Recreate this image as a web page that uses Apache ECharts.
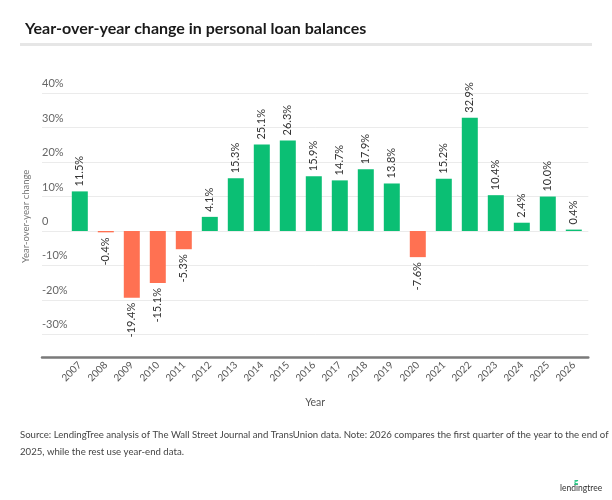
<!DOCTYPE html>
<html>
<head>
<meta charset="utf-8">
<script src="https://cdn.jsdelivr.net/npm/echarts@6/dist/echarts.min.js"></script>
<style>
html,body{margin:0;padding:0;background:#fff;}
#chart{width:612px;height:500px;}
</style>
</head>
<body>
<div id="chart"></div>
<script>
const years = ['2007','2008','2009','2010','2011','2012','2013','2014','2015','2016','2017','2018','2019','2020','2021','2022','2023','2024','2025','2026'];
const changes = [11.5,-0.4,-19.4,-15.1,-5.3,4.1,15.3,25.1,26.3,15.9,14.7,17.9,13.8,-7.6,15.2,32.9,10.4,2.4,10.0,0.4];
const yTicks = [-30,-20,-10,0,10,20,30,40];

const GREEN = '#0bbf74';
const RED = '#ff7152';
const FONT = 'Lato';

const barData = changes.map(v => {
  const item = { value: v, itemStyle: { color: v >= 0 ? GREEN : RED } };
  if (v < 0) item.label = { position: 'bottom', align: 'right' };
  return item;
});

const yMin = -36.7, yMax = 40;
const chart = echarts.init(document.getElementById('chart'));
chart.setOption({
  backgroundColor: '#fff',
  animation: false,
  textStyle: { fontFamily: FONT },
  title: {
    text: 'Year-over-year change in personal loan balances',
    left: 20, top: 16,
    textStyle: { fontFamily: FONT, fontWeight: 'bold', fontSize: 16, color: '#1a1a1a' }
  },
  grid: [
    { left: 42, right: 23.7, top: 93.3, bottom: 142.7 },
    { left: 66.8, right: 25.2, top: 93.3, bottom: 142.7 }
  ],
  xAxis: [
    {
      gridIndex: 0, type: 'category', data: years,
      axisLine: { show: true, onZero: false, lineStyle: { color: '#7a7a7a', width: 2.5 } },
      axisTick: { show: false }, axisLabel: { show: false },
      name: 'Year', nameLocation: 'middle', nameGap: 40,
      nameTextStyle: { fontFamily: FONT, fontSize: 10.5, color: '#555' }
    },
    {
      gridIndex: 1, type: 'category', data: years,
      axisLine: { show: false, onZero: false }, axisTick: { show: false },
      axisLabel: { rotate: 45, margin: 6, fontFamily: FONT, fontSize: 10, color: '#555', interval: 0 }
    }
  ],
  yAxis: [
    {
      gridIndex: 0, type: 'value', min: yMin, max: yMax,
      axisLine: { show: false },
      axisTick: { show: false, customValues: yTicks },
      splitLine: { show: true, lineStyle: { color: '#ebebeb', width: 1 } },
      axisLabel: {
        customValues: yTicks, inside: true, margin: 0,
        verticalAlign: 'bottom', padding: [0, 0, 4, 0],
        fontFamily: FONT, fontSize: 11, color: '#666',
        formatter: v => v === 0 ? '0' : v + '%'
      },
      name: 'Year-over-year change', nameLocation: 'middle', nameGap: 4,
      nameTextStyle: { fontFamily: FONT, fontSize: 9.5, color: '#777', padding: [0, 0, 0, 18] }
    },
    {
      gridIndex: 1, type: 'value', min: yMin, max: yMax,
      axisLine: { show: false }, axisTick: { show: false },
      axisLabel: { show: false }, splitLine: { show: false }
    }
  ],
  series: [{
    type: 'bar', xAxisIndex: 1, yAxisIndex: 1,
    data: barData, barWidth: 16,
    label: {
      show: true, position: 'top', rotate: 90, align: 'left', verticalAlign: 'middle',
      distance: 5, fontFamily: FONT, fontSize: 11, color: '#333',
      formatter: p => p.value.toFixed(1) + '%'
    }
  }],
  graphic: [
    { type: 'rect', shape: { x: 20, y: 43, width: 572, height: 3 }, style: { fill: '#e6e6e6' } },
    {
      type: 'text', left: 20, top: 426,
      style: {
        text: 'Source: LendingTree analysis of The Wall Street Journal and TransUnion data. Note: 2026 compares the first quarter of the year to the end of\n2025, while the rest use year-end data.',
        fontFamily: FONT, fontSize: 9.6, lineHeight: 17, fill: '#444'
      }
    },
    {
      type: 'text', left: 560, top: 484,
      style: { text: 'lendingtree', fontFamily: FONT, fontSize: 8.5, fill: '#333' }
    },
    {
      type: 'text', left: 574, top: 477,
      style: { text: 'g', fontFamily: FONT, fontSize: 8, fontWeight: 'bold', fill: GREEN }
    }
  ]
});
</script>
</body>
</html>
